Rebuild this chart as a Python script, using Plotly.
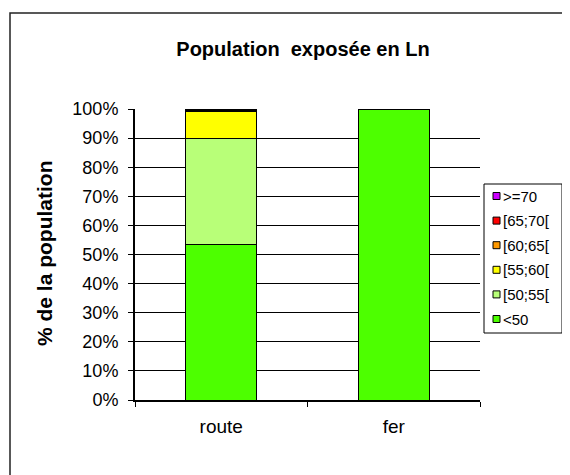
import plotly.graph_objects as go

categories = ["route", "fer"]
series_names = ["<50", "[50;55[", "[55;60[", "[60;65[", "[65;70[", ">=70"]
values_lt50 = [53.5, 99.8]
values_50_55 = [36.5, 0.1]
values_55_60 = [9.1, 0.05]
values_60_65 = [0.4, 0.02]
values_65_70 = [0.3, 0.02]
values_ge70 = [0.2, 0.01]
series_values = [values_lt50, values_50_55, values_55_60, values_60_65, values_65_70, values_ge70]
colors = ["#4DFF00", "#B8FF78", "#FFFF00", "#FF9900", "#FF0000", "#CC00FF"]
ytick_vals = [0, 10, 20, 30, 40, 50, 60, 70, 80, 90, 100]
ytick_text = [f"{v}%" for v in ytick_vals]

FONT = "Liberation Sans, Arial, sans-serif"

fig = go.Figure()
for i, (name, vals, col) in enumerate(zip(series_names, series_values, colors)):
    fig.add_trace(go.Bar(
        x=categories, y=vals, name=name,
        marker=dict(color=col, line=dict(color="#000000", width=1)),
        showlegend=False,
    ))

# page offset of the plot div (default body margin)
OFF = 8
W, H = 570 - OFF, 475 - OFF
# plot area in page pixels: x 135..480, y 109..400
L = 135 - OFF
R = W - (480 - OFF)
T = 109 - OFF
B = H - (400 - OFF)
pw = W - L - R
ph = H - T - B

def px_x(x):
    return (x - OFF - L) / pw

def px_y(y):
    return (H - B - (y - OFF)) / ph

shapes = [
    dict(type="rect", xref="paper", yref="paper",
         x0=px_x(10), x1=px_x(580), y0=px_y(490), y1=px_y(13),
         line=dict(color="#222222", width=1.5), fillcolor="rgba(0,0,0,0)",
         layer="below"),
    # legend box
    dict(type="rect", xref="paper", yref="paper",
         x0=px_x(484), x1=px_x(562), y0=px_y(333), y1=px_y(184),
         line=dict(color="black", width=1), fillcolor="white"),
]
annotations = [
    dict(text="<b>% de la population</b>", xref="paper", yref="paper",
         x=px_x(44), y=px_y(253), xanchor="center", yanchor="middle",
         textangle=-90, showarrow=False,
         font=dict(family=FONT, size=21, color="black")),
]

# manual legend: top entry is last series
item_y0 = 196
item_step = 24.6
n = len(series_names)
for k in range(n):
    idx = n - 1 - k
    yc = item_y0 + k * item_step
    shapes.append(dict(type="rect", xref="paper", yref="paper",
                       x0=px_x(493), x1=px_x(500), y0=px_y(yc + 3.5), y1=px_y(yc - 3.5),
                       line=dict(color="black", width=1), fillcolor=colors[idx]))
    annotations.append(dict(text=series_names[idx], xref="paper", yref="paper",
                            x=px_x(501), y=px_y(yc), xanchor="left", yanchor="middle",
                            showarrow=False,
                            font=dict(family=FONT, size=15, color="black")))

fig.update_layout(
    width=W, height=H,
    margin=dict(l=L, r=R, t=T, b=B, pad=0),
    barmode="stack",
    bargap=0.59,
    paper_bgcolor="white",
    plot_bgcolor="white",
    font=dict(family=FONT, color="black", size=18),
    title=dict(
        text="<b>Population\u00a0\u00a0exposée en Ln</b>",
        x=(303 - OFF) / W, xanchor="center",
        y=1 - (49 - OFF) / H, yanchor="middle",
        font=dict(family=FONT, size=20, color="black"),
    ),
    showlegend=False,
    xaxis=dict(
        showline=True, linecolor="black", linewidth=2,
        ticks="outside", ticklen=5, tickcolor="black",
        tickson="boundaries",
        tickfont=dict(family=FONT, size=19),
        ticklabelstandoff=8,
        showgrid=False,
    ),
    yaxis=dict(
        range=[0, 100],
        tickvals=ytick_vals, ticktext=ytick_text,
        showline=True, linecolor="black", linewidth=2,
        ticks="outside", ticklen=5, tickcolor="black",
        showgrid=True, gridcolor="black", gridwidth=1,
        tickfont=dict(family=FONT, size=18),
        ticklabelstandoff=6,
        zeroline=False,
    ),
    shapes=shapes,
    annotations=annotations,
)

fig.write_html("out.html")
